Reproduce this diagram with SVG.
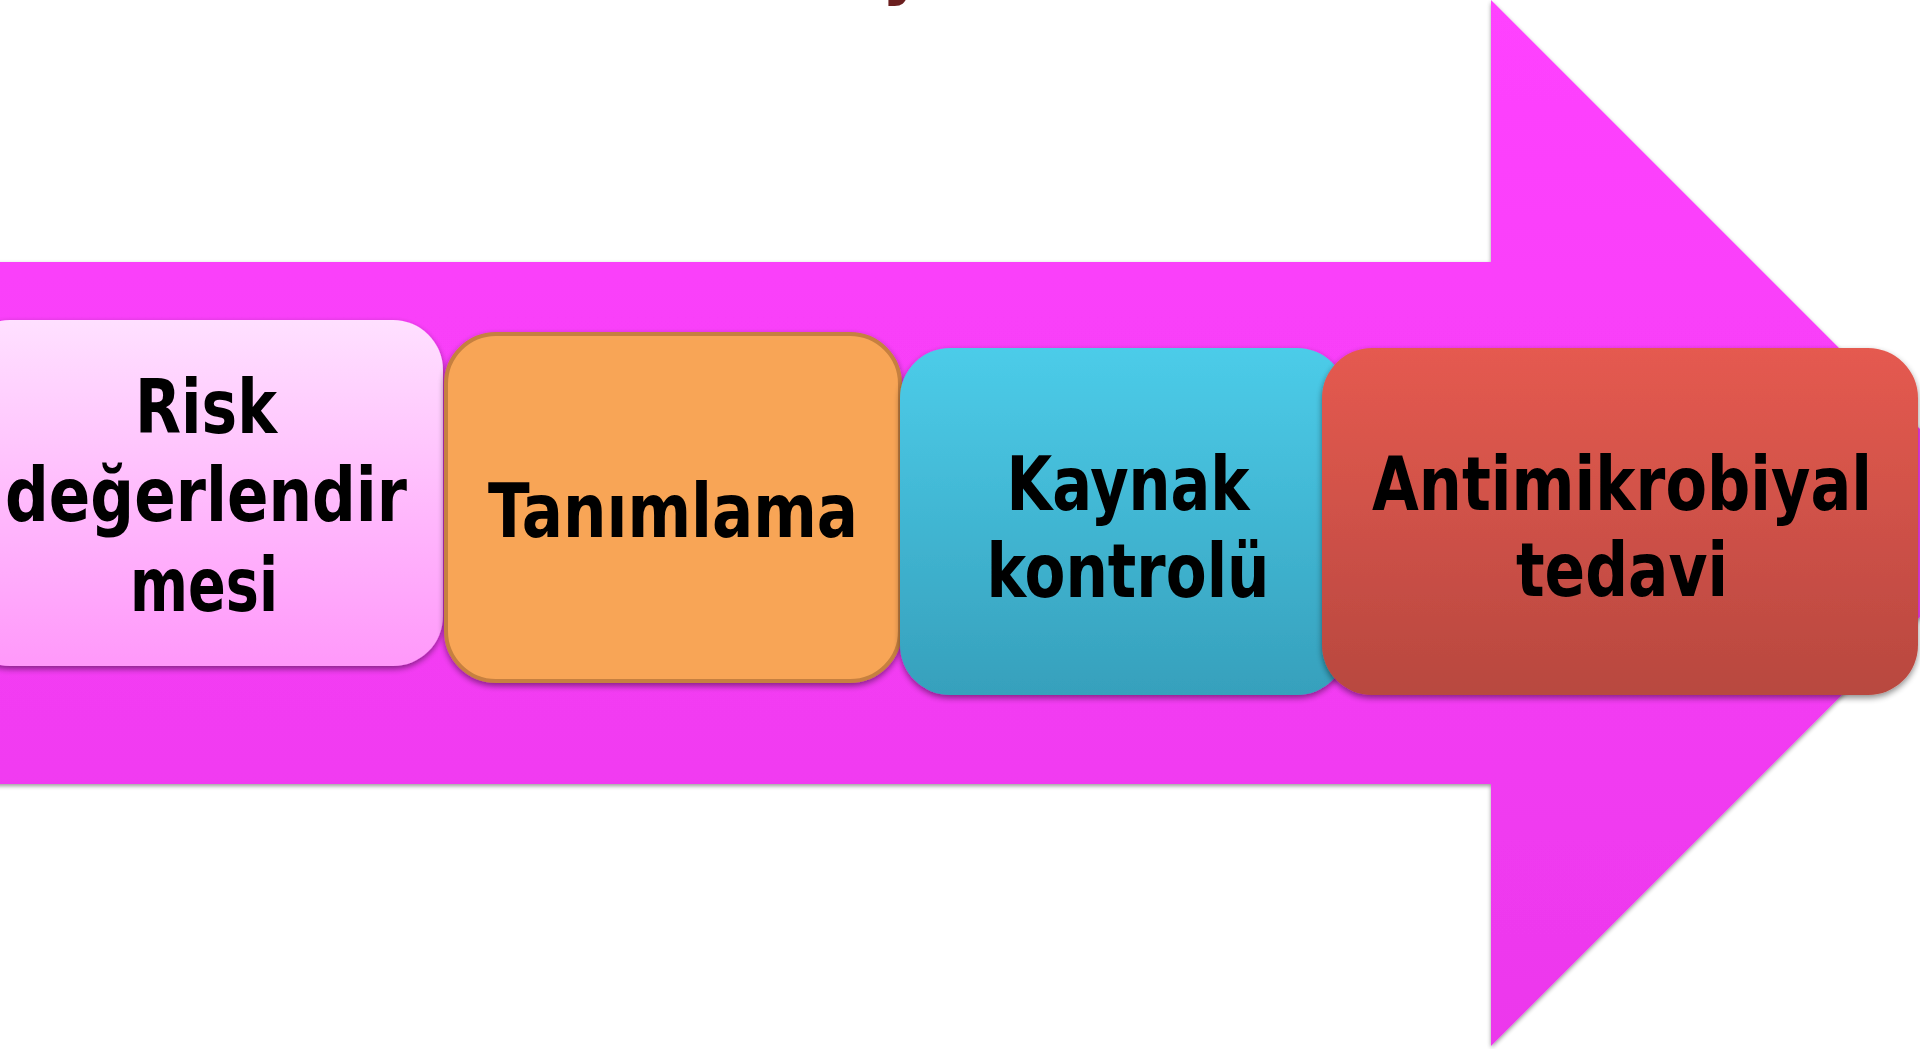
<svg xmlns="http://www.w3.org/2000/svg" width="1920" height="1049" viewBox="0 0 1920 1049">
<defs>
<linearGradient id="gArrow" x1="0" y1="0" x2="0" y2="1">
<stop offset="0" stop-color="#ff42ff"/>
<stop offset="1" stop-color="#ec38ec"/>
</linearGradient>
<linearGradient id="gPink" x1="0" y1="0" x2="0" y2="1">
<stop offset="0" stop-color="#ffe0ff"/>
<stop offset="1" stop-color="#ff98fa"/>
</linearGradient>
<linearGradient id="gBlue" x1="0" y1="0" x2="0" y2="1">
<stop offset="0" stop-color="#4ccce9"/>
<stop offset="1" stop-color="#36a0bc"/>
</linearGradient>
<linearGradient id="gRed" x1="0" y1="0" x2="0" y2="1">
<stop offset="0" stop-color="#e55a50"/>
<stop offset="1" stop-color="#b8483f"/>
</linearGradient>
<filter id="shadow" x="-10%" y="-10%" width="120%" height="125%">
<feGaussianBlur in="SourceAlpha" stdDeviation="3"/>
<feOffset dx="0" dy="3" result="b"/>
<feComponentTransfer><feFuncA type="linear" slope="0.45"/></feComponentTransfer>
<feMerge><feMergeNode/><feMergeNode in="SourceGraphic"/></feMerge>
</filter>
<filter id="ashadow" x="-5%" y="-5%" width="110%" height="110%">
<feGaussianBlur in="SourceAlpha" stdDeviation="2"/>
<feOffset dx="0" dy="2" result="b"/>
<feComponentTransfer><feFuncA type="linear" slope="0.4"/></feComponentTransfer>
<feMerge><feMergeNode/><feMergeNode in="SourceGraphic"/></feMerge>
</filter>
</defs>
<style>
.lbl{font-family:"DejaVu Sans","Liberation Sans",sans-serif;font-weight:bold;font-size:74px;fill:#000;text-anchor:middle}
</style>
<rect x="0" y="0" width="1920" height="1049" fill="#ffffff"/>
<text x="882" y="-8" font-family="DejaVu Sans, sans-serif" font-weight="bold" font-size="64" fill="#6b1f1f">y</text>
<g id="arrow" filter="url(#ashadow)">
<path d="M -20 262 L 1491 262 L 1491 0 L 2014 523 L 1491 1046 L 1491 784 L -20 784 Z" fill="url(#gArrow)"/>
</g>
<g id="connectors"></g>
<g id="n1" filter="url(#shadow)">
<rect x="-40" y="320" width="483" height="346" rx="50" fill="url(#gPink)"/>
<text class="lbl" x="206" y="433" textLength="142" lengthAdjust="spacingAndGlyphs">Risk</text>
<text class="lbl" x="206" y="521" textLength="402" lengthAdjust="spacingAndGlyphs">değerlendir</text>
<text class="lbl" x="204" y="611" textLength="148" lengthAdjust="spacingAndGlyphs">mesi</text>
</g>
<g id="n2" filter="url(#shadow)">
<rect x="446" y="334" width="454" height="347" rx="50" fill="#f8a556" stroke="#c6803f" stroke-width="4"/>
<text class="lbl" x="673" y="537" textLength="370" lengthAdjust="spacingAndGlyphs">Tanımlama</text>
</g>
<g id="n3" filter="url(#shadow)">
<rect x="900" y="348" width="447" height="347" rx="50" fill="url(#gBlue)"/>
<text class="lbl" x="1128" y="510" textLength="243" lengthAdjust="spacingAndGlyphs">Kaynak</text>
<text class="lbl" x="1128" y="597" textLength="283" lengthAdjust="spacingAndGlyphs">kontrolü</text>
</g>
<g id="n4" filter="url(#shadow)">
<rect x="1322" y="348" width="596" height="347" rx="50" fill="url(#gRed)"/>
<text class="lbl" x="1622" y="510" textLength="500" lengthAdjust="spacingAndGlyphs">Antimikrobiyal</text>
<text class="lbl" x="1622" y="596" textLength="212" lengthAdjust="spacingAndGlyphs">tedavi</text>
</g>
</svg>
